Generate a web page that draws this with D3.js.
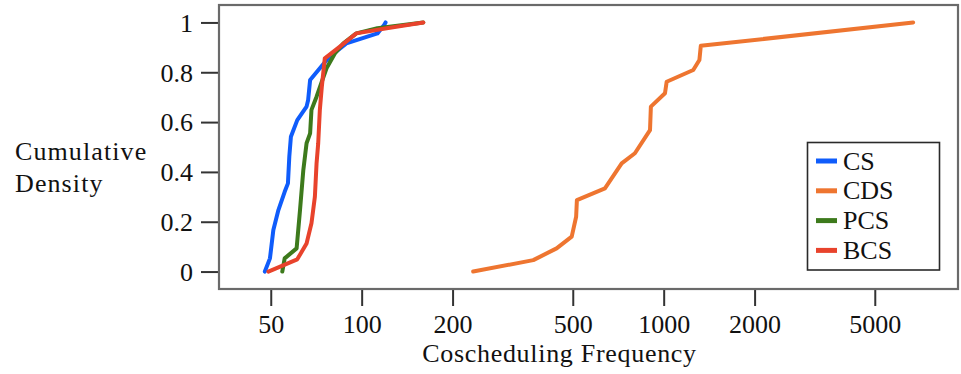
<!DOCTYPE html>
<html>
<head>
<meta charset="utf-8">
<script src="https://cdn.jsdelivr.net/npm/d3@7/dist/d3.min.js"></script>
<style>
  html, body { margin: 0; padding: 0; background: #fff; }
  svg text { font-family: "Liberation Serif", "DejaVu Serif", serif; fill: #111; }
</style>
</head>
<body>
<svg id="chart" width="961" height="374"></svg>
<script>
// Cumulative distributions of coscheduling frequency per scheduler (log x axis)
const seriesNames = ["CS", "CDS", "PCS", "BCS"];
const seriesColors = ["#0f5cfb", "#ee7530", "#3d7a1c", "#e8432c"];

// [frequency, cumulative density]
const csPoints = [
  [47.8, 0], [49.7, 0.053], [51, 0.167], [53, 0.247], [55.6, 0.32], [57, 0.354],
  [57.6, 0.461], [58.3, 0.541], [61.2, 0.608], [65.7, 0.662], [66.5, 0.689],
  [67.5, 0.769], [72.7, 0.816], [78.4, 0.863], [89, 0.916], [112.8, 0.956],
  [118.7, 0.99], [120, 1.0]
];
const cdsPoints = [
  [234, 0], [370, 0.046], [442, 0.093], [496, 0.14], [513, 0.22], [516, 0.287],
  [639, 0.334], [726, 0.434], [803, 0.475], [901, 0.568], [907, 0.662],
  [1010, 0.716], [1023, 0.762], [1253, 0.809], [1313, 0.849], [1327, 0.906],
  [1425, 0.91], [6700, 1.0]
];
const pcsPoints = [
  [54.6, 0], [55.6, 0.053], [60.9, 0.093], [62.5, 0.247], [64.1, 0.408],
  [65.7, 0.515], [67.5, 0.555], [68.2, 0.649], [70.9, 0.702], [76.5, 0.816],
  [81.6, 0.876], [87, 0.916], [96, 0.956], [112.8, 0.977], [160, 1.0]
];
const bcsPoints = [
  [49.1, 0], [61.2, 0.049], [65.7, 0.113], [68.2, 0.194], [69.1, 0.247],
  [70, 0.3], [70.9, 0.434], [71.8, 0.515], [72.7, 0.649], [73.8, 0.742],
  [75.5, 0.856], [84.7, 0.903], [96, 0.956], [121, 0.977], [160, 1.0]
];
const seriesPoints = [csPoints, cdsPoints, pcsPoints, bcsPoints];

const xTickValues = [50, 100, 200, 500, 1000, 2000, 5000];
const yTickValues = [0, 0.2, 0.4, 0.6, 0.8, 1];
const xTitle = "Coscheduling Frequency";
const yTitleLines = ["Cumulative", "Density"];

const svg = d3.select("#chart");
const plot = { left: 219, right: 958, top: 5, bottom: 289 };

const x = d3.scaleLog().domain([33.7, 9430]).range([plot.left, plot.right]);
const y = d3.scaleLinear().domain([-0.07, 1.07]).range([plot.bottom, plot.top]);

const fontSize = 26;

// Y axis (ticks outside the frame)
const yAxis = svg.append("g")
  .attr("transform", `translate(${plot.left},0)`)
  .call(d3.axisLeft(y).tickValues(yTickValues).tickSize(18).tickPadding(8)
    .tickFormat(d => d === 0 ? "0" : d === 1 ? "1" : d3.format(".1f")(d)));
yAxis.select(".domain").remove();
yAxis.selectAll(".tick line").attr("stroke", "#333").attr("stroke-width", 2);
yAxis.selectAll(".tick text")
  .attr("font-size", fontSize).attr("font-family", "Liberation Serif")
  .attr("fill", "#111").attr("dy", "0.34em");

// X axis
const xAxis = svg.append("g")
  .attr("transform", `translate(0,${plot.bottom})`)
  .call(d3.axisBottom(x).tickValues(xTickValues).tickSize(17).tickPadding(9)
    .tickFormat(d3.format("d")));
xAxis.select(".domain").remove();
xAxis.selectAll(".tick line").attr("stroke", "#333").attr("stroke-width", 2);
xAxis.selectAll(".tick text")
  .attr("font-size", fontSize).attr("font-family", "Liberation Serif")
  .attr("fill", "#111");

// Plot frame
svg.append("rect")
  .attr("x", plot.left).attr("y", plot.top)
  .attr("width", plot.right - plot.left).attr("height", plot.bottom - plot.top)
  .attr("fill", "none").attr("stroke", "#6a6a6a").attr("stroke-width", 2.2);

// Series lines
const line = d3.line().x(d => x(d[0])).y(d => y(d[1]));
svg.append("g").selectAll("path")
  .data(seriesPoints)
  .join("path")
  .attr("d", line)
  .attr("fill", "none")
  .attr("stroke", (d, i) => seriesColors[i])
  .attr("stroke-width", 4)
  .attr("stroke-linejoin", "round")
  .attr("stroke-linecap", "round");

// Axis titles
svg.append("text")
  .attr("x", (plot.left + plot.right) / 2 - 29).attr("y", 362)
  .attr("text-anchor", "middle")
  .attr("font-size", fontSize).attr("letter-spacing", 0.7)
  .text(xTitle);

svg.append("g").selectAll("text")
  .data(yTitleLines)
  .join("text")
  .attr("x", 15).attr("y", (d, i) => 160 + i * 32)
  .attr("font-size", fontSize).attr("letter-spacing", 1.1)
  .text(d => d);

// Legend
const legend = svg.append("g");
legend.append("rect")
  .attr("x", 807.5).attr("y", 142.5).attr("width", 132).attr("height", 127.5)
  .attr("fill", "#fff").attr("stroke", "#2a2a2a").attr("stroke-width", 1.6);
const entries = legend.selectAll("g.entry")
  .data(seriesNames)
  .join("g")
  .attr("class", "entry")
  .attr("transform", (d, i) => `translate(0,${161 + i * 29.8})`);
entries.append("line")
  .attr("x1", 816).attr("x2", 837).attr("y1", 0).attr("y2", 0)
  .attr("stroke", (d, i) => seriesColors[i]).attr("stroke-width", 5);
entries.append("text")
  .attr("x", 843).attr("y", 8.5)
  .attr("font-size", fontSize)
  .text(d => d);
</script>
</body>
</html>
